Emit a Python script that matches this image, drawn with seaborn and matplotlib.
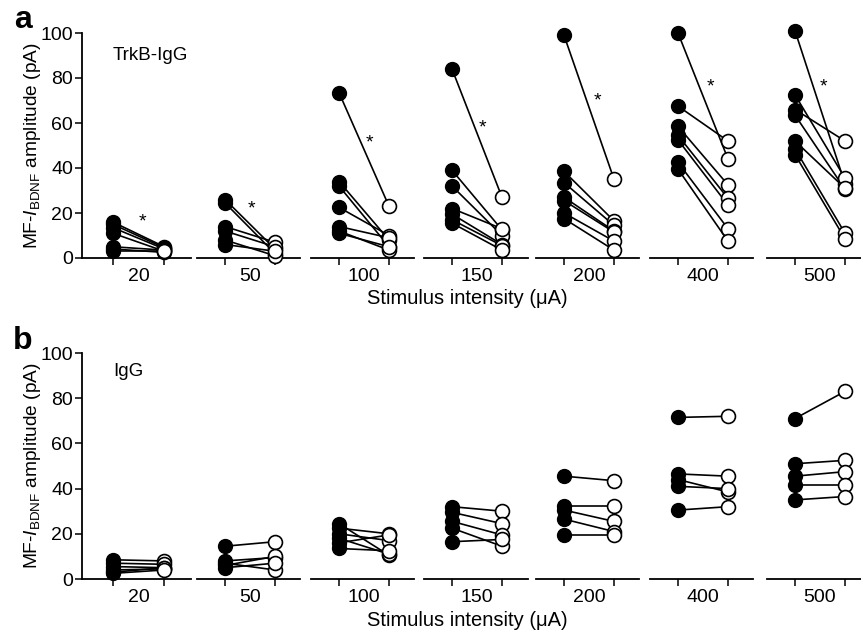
import numpy as np
import pandas as pd
import matplotlib
matplotlib.use("Agg")
import matplotlib.pyplot as plt
import seaborn as sns

# ─── Data ───────────────────────────────────────────────────────────────────
intensities = ["20", "50", "100", "150", "200", "400", "500"]

# panel a: TrkB-IgG, one list per intensity, paired per cell
trkb_before = [
    [16, 15, 13.5, 11, 5, 4, 3],
    [26, 24.5, 14, 12, 8, 6],
    [73.5, 34, 32, 22.5, 14, 12, 11],
    [84, 39, 32, 22, 19.5, 17, 15.5],
    [99, 38.5, 33.5, 27, 25.5, 20, 17.5],
    [100, 67.5, 58.5, 54.5, 52.5, 42.5, 39.5],
    [101, 72.5, 66, 63.5, 52, 48.5, 46],
]
trkb_after = [
    [5, 4.5, 4, 3, 3.5, 2.5, 3],
    [4, 2, 7, 5, 1, 3],
    [23, 8, 5, 10, 9, 3.5, 5],
    [27, 12.5, 10, 13, 6, 5.5, 3.5],
    [35, 16.5, 14.5, 12, 11.5, 7.5, 3.5],
    [44, 52, 32.5, 26.5, 23.5, 13, 7.5],
    [33, 35.5, 52, 30.5, 31, 11, 8.5],
]

# panel b: IgG control
igg_before = [
    [8.5, 7, 5.5, 4, 3, 2.5],
    [14.5, 8, 7, 6, 5],
    [24.5, 22.5, 20, 18, 16, 13.5],
    [32, 29.5, 25.5, 22.5, 16.5],
    [45.5, 32.5, 30.5, 26.5, 19.5],
    [71.5, 46.5, 44, 41, 30.5],
    [71, 51, 45.5, 41.5, 35],
]
igg_after = [
    [8, 6.5, 5, 4.5, 5, 4],
    [16.5, 9.5, 4, 10, 7],
    [10.5, 20, 17, 11, 19.5, 12.5],
    [30, 24.5, 19.5, 14.5, 17.5],
    [43.5, 32.5, 25.5, 21, 19.5],
    [72, 45.5, 38.5, 40, 32],
    [83, 52.5, 47.5, 41.5, 36.5],
]

# significance stars (panel a only): x between the pair, y in pA
star_x = [0.57, 0.52, 0.6, 0.6, 0.66, 0.65, 0.56]
star_y = [16, 22, 51, 58, 70, 76, 76]


def to_long(panel, before, after):
    rows = []
    for lab, pre, post in zip(intensities, before, after):
        for k, (v0, v1) in enumerate(zip(pre, post)):
            rows.append({"panel": panel, "intensity": lab, "cell": k, "cond": 0, "amp": v0})
            rows.append({"panel": panel, "intensity": lab, "cell": k, "cond": 1, "amp": v1})
    return rows


df = pd.DataFrame(to_long("a", trkb_before, trkb_after) + to_long("b", igg_before, igg_after))

sns.set_style("ticks")
plt.rcParams["font.family"] = ["Liberation Sans", "DejaVu Sans"]
plt.rcParams["mathtext.fontset"] = "custom"
plt.rcParams["mathtext.rm"] = "Liberation Sans"
plt.rcParams["mathtext.it"] = "Liberation Sans:italic"
for key in ["text.color", "axes.labelcolor", "xtick.color", "ytick.color", "axes.edgecolor"]:
    plt.rcParams[key] = "black"

W, H = 862, 634
fig = plt.figure(figsize=(W / 100, H / 100), dpi=100)
fig.patch.set_facecolor("white")

filled_px = [112, 225, 339, 452, 564, 678, 795]
panels = {"a": (258, 225), "b": (579, 226)}   # (y of zero, height) in px
TICK_FS = 14

for panel, (y0, hgt) in panels.items():
    for i, lab in enumerate(intensities):
        left = filled_px[i] - 27.5
        width = 103
        xmin = -0.55
        if i == 0:
            left, width, xmin = 82, 108.5, -0.6
        ax = fig.add_axes([left / W, (H - y0) / H, width / W, hgt / H])
        sub = df[(df.panel == panel) & (df.intensity == lab)]
        sns.lineplot(data=sub, x="cond", y="amp", units="cell", estimator=None,
                     color="black", lw=1.2, ax=ax, legend=False, zorder=1)
        sns.scatterplot(data=sub[sub.cond == 0], x="cond", y="amp", ax=ax,
                        color="black", edgecolor="black", s=100, linewidth=1,
                        zorder=3, clip_on=False, legend=False)
        sns.scatterplot(data=sub[sub.cond == 1], x="cond", y="amp", ax=ax,
                        color="white", edgecolor="black", s=100, linewidth=1.2,
                        zorder=4, clip_on=False, legend=False)
        ax.set_xlim(xmin, 1.51)
        ax.set_ylim(0, 100)
        ax.set_xlabel("")
        ax.set_ylabel("")
        ax.set_xticks([0, 1], labels=["", ""])
        ax.set_xticks([0.5], labels=[lab], minor=True)
        ax.tick_params(axis="x", which="major", length=5, width=1.1)
        ax.tick_params(axis="x", which="minor", length=0, pad=7, labelsize=TICK_FS)
        for sp in ["top", "right"]:
            ax.spines[sp].set_visible(False)
        ax.spines["bottom"].set_linewidth(1.3)
        if i == 0:
            ax.spines["left"].set_linewidth(1.3)
            ax.set_yticks([0, 20, 40, 60, 80, 100])
            ax.tick_params(axis="y", length=5, width=1.1, labelsize=TICK_FS, pad=1.5)
        else:
            ax.spines["left"].set_visible(False)
            ax.set_yticks([])
        if panel == "a":
            ax.text(star_x[i], star_y[i], "*", ha="center", va="center", fontsize=14)
        if i == 0:
            ax.text(0.0, 92 if panel == "b" else 90,
                    "IgG" if panel == "b" else "TrkB-IgG",
                    ha="left", va="center", fontsize=13.5)

    ymid = (y0 - hgt / 2)
    fig.text(33 / W, 1 - ymid / H, r"MF-$\mathit{I}_{\mathrm{BDNF}}$ amplitude (pA)",
             rotation=90, ha="center", va="center", fontsize=13.8)
    fig.text(467 / W, 1 - (y0 + 41) / H, "Stimulus intensity (\u03bcA)",
             ha="center", va="center", fontsize=14.5)

fig.text(23 / W, 1 - 20 / H, "a", ha="center", va="center", fontsize=23, fontweight="bold")
fig.text(23 / W, 1 - 341 / H, "b", ha="center", va="center", fontsize=23, fontweight="bold")

fig.savefig("out.png", dpi=100, facecolor="white")
